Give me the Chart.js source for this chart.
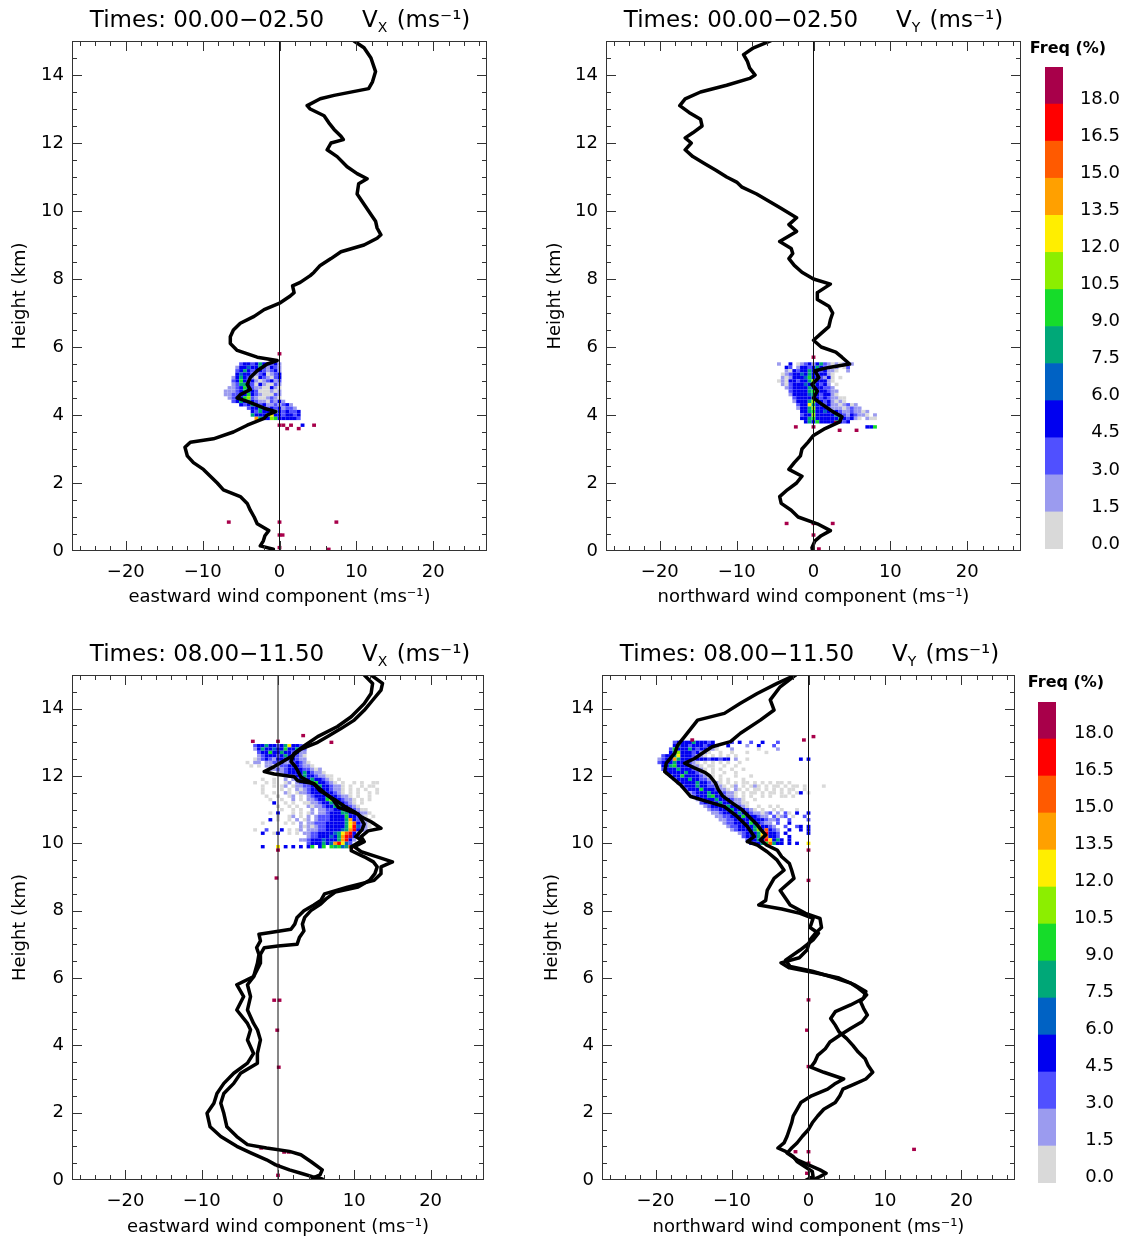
<!DOCTYPE html>
<html><head><meta charset="utf-8">
<script src="https://cdn.jsdelivr.net/npm/chart.js@4.4.1/dist/chart.umd.min.js"></script>
<style>
html,body{margin:0;padding:0;background:#fff;}
#wrap{position:relative;width:1122px;height:1240px;overflow:hidden;background:#fff;}
canvas{position:absolute;}
</style></head><body><div id="wrap">
<canvas id="p1" style="left:0px;top:0px;width:530px;height:620px" width="530" height="620"></canvas>
<canvas id="p2" style="left:530px;top:0px;width:500px;height:620px" width="500" height="620"></canvas>
<canvas id="cb1" style="left:1025px;top:30px;width:97px;height:530px" width="97" height="530"></canvas>
<canvas id="p3" style="left:0px;top:630px;width:530px;height:610px" width="530" height="610"></canvas>
<canvas id="p4" style="left:530px;top:630px;width:500px;height:610px" width="500" height="610"></canvas>
<canvas id="cb2" style="left:1020px;top:660px;width:102px;height:540px" width="102" height="540"></canvas>
</div>
<script>
// ---------- axes ----------
const X_MIN = -27, X_MAX = 27, H_MIN = 0, H_MAX = 15;
const xTickValues = [-20, -10, 0, 10, 20];
const hTickValues = [0, 2, 4, 6, 8, 10, 12, 14];
const BIN_W = 0.5, BIN_H = 0.1;   // histogram bin size (ms-1, km)

// ---------- colour scale ----------
const freqLevels = [0.0, 1.5, 3.0, 4.5, 6.0, 7.5, 9.0, 10.5, 12.0, 13.5, 15.0, 16.5, 18.0];
const FREQ_STEP = 1.5;
const freqColors = ['#d9d9d9', '#9b9bef', '#5050ff', '#0000f0', '#0062c4', '#00a878', '#16dc2a',
                    '#8cee00', '#ffee00', '#ffa000', '#ff5a00', '#ff0000', '#a8004a'];

// ---------- titles ----------
const timesTop = 'Times: 00.00\u221202.50';
const timesBottom = 'Times: 08.00\u221211.50';

// ---------- profiles [height km, wind ms-1] ----------
const p1Profile = [[15.0,9.7],[14.8,11.0],[14.5,11.9],[14.1,12.5],[13.8,12.1],[13.6,11.6],[13.4,7.1],[13.3,5.3],[13.1,3.6],[13.0,4.0],[12.8,5.8],[12.6,6.4],[12.4,7.1],[12.2,8.0],[12.1,8.3],[12.0,6.7],[11.8,6.2],[11.6,7.5],[11.3,8.8],[11.1,10.1],[10.95,11.4],[10.8,10.3],[10.5,10.1],[10.2,11.0],[9.9,11.9],[9.7,12.5],[9.5,12.7],[9.3,13.2],[9.2,12.7],[9.0,11.0],[8.8,8.0],[8.6,6.7],[8.4,5.3],[8.2,4.5],[8.1,4.0],[7.9,2.7],[7.8,1.7],[7.6,1.9],[7.5,1.4],[7.3,0.1],[7.1,-2.0],[6.9,-3.3],[6.7,-5.1],[6.5,-6.0],[6.3,-6.4],[6.1,-6.4],[5.9,-5.5],[5.7,-2.9],[5.6,-0.3],[5.5,-1.6],[5.3,-2.9],[5.1,-3.8],[4.9,-4.2],[4.75,-3.8],[4.6,-5.1],[4.5,-5.5],[4.4,-4.2],[4.2,-2.0],[4.1,-0.5],[4.0,-1.6],[3.9,-2.0],[3.7,-4.2],[3.5,-6.0],[3.3,-8.6],[3.2,-11.6],[3.05,-12.3],[2.8,-12.0],[2.6,-11.2],[2.4,-9.9],[2.2,-9.0],[2.0,-8.1],[1.8,-7.3],[1.6,-5.1],[1.4,-4.2],[1.2,-3.8],[1.0,-3.3],[0.8,-2.9],[0.6,-1.4],[0.45,-1.9],[0.3,-2.1],[0.15,-2.5],[0.05,-0.8]];

const p2Profile = [[15.0,-5.6],[14.8,-7.8],[14.6,-9.1],[14.4,-8.6],[14.2,-8.3],[14.0,-7.6],[13.9,-8.3],[13.7,-11.3],[13.5,-14.7],[13.3,-16.7],[13.1,-17.4],[12.9,-16.2],[12.7,-14.7],[12.5,-14.5],[12.3,-15.7],[12.15,-16.7],[12.0,-15.9],[11.8,-16.7],[11.6,-15.7],[11.4,-14.2],[11.2,-12.7],[11.0,-11.3],[10.85,-10.0],[10.7,-9.3],[10.5,-7.4],[10.3,-5.9],[10.1,-4.4],[9.8,-2.2],[9.6,-3.2],[9.4,-2.2],[9.1,-4.4],[8.9,-2.9],[8.75,-2.7],[8.6,-3.2],[8.4,-2.5],[8.2,-1.5],[8.0,0.0],[7.85,2.2],[7.6,0.5],[7.4,0.5],[7.2,2.0],[7.0,2.5],[6.8,2.2],[6.6,2.0],[6.4,1.0],[6.2,0.0],[6.0,1.0],[5.85,2.9],[5.7,3.7],[5.5,4.7],[5.4,2.0],[5.3,0.2],[5.1,0.7],[4.9,-0.2],[4.7,0.5],[4.5,0.0],[4.3,1.2],[4.1,2.5],[3.95,3.7],[3.8,3.4],[3.6,1.5],[3.4,0.0],[3.2,-0.7],[3.0,-1.5],[2.8,-1.7],[2.6,-2.5],[2.4,-3.2],[2.2,-1.5],[2.0,-2.2],[1.8,-3.4],[1.6,-4.4],[1.4,-4.2],[1.2,-2.9],[1.0,-2.0],[0.8,0.5],[0.6,2.2],[0.45,1.0],[0.3,0.2],[0.1,-0.2],[0.0,-0.1]];

const p3ProfileA = [[15.0,12.2],[14.75,13.7],[14.55,13.5],[14.25,12.4],[13.95,11.3],[13.66,10.0],[13.4,8.2],[13.17,6.5],[13.0,5.2],[12.8,3.0],[12.57,1.7],[12.28,-0.5],[12.13,-1.8],[12.06,-0.5],[11.98,2.1],[11.86,2.6],[11.78,4.7],[11.56,5.5],[11.3,7.4],[11.1,8.7],[10.94,10.0],[10.79,10.9],[10.64,12.2],[10.45,13.5],[10.37,11.8],[10.2,10.9],[10.05,11.3],[9.9,10.0],[9.75,10.9],[9.6,13.0],[9.45,15.0],[9.3,13.5],[9.1,13.5],[8.9,12.6],[8.7,9.1],[8.5,6.1],[8.3,5.6],[8.17,4.7],[8.0,3.4],[7.8,2.5],[7.6,2.2],[7.45,1.7],[7.35,-1.0],[7.3,-2.5],[7.1,-2.3],[6.9,-2.8],[6.7,-2.5],[6.44,-2.7],[6.04,-3.2],[5.8,-5.4],[5.45,-4.5],[5.05,-5.4],[4.65,-4.0],[4.46,-3.6],[4.16,-4.0],[3.76,-3.2],[3.47,-4.0],[3.17,-5.8],[2.87,-7.1],[2.57,-8.0],[2.28,-8.4],[1.98,-9.3],[1.58,-8.9],[1.29,-7.5],[1.0,-5.4],[0.8,-3.5],[0.6,-1.5],[0.45,-0.3],[0.3,1.5],[0.2,3.0],[0.1,4.5],[0.03,5.8]];
const p3ProfileB = [[15.0,11.3],[14.75,12.4],[14.45,12.2],[14.15,11.3],[13.76,9.6],[13.47,7.8],[13.17,5.2],[12.92,3.6],[12.67,2.1],[12.43,1.7],[12.3,2.2],[12.15,2.6],[11.97,3.0],[11.75,4.8],[11.5,6.1],[11.3,7.2],[11.07,7.9],[10.87,10.5],[10.57,11.3],[10.4,11.0],[10.2,10.2],[10.08,11.0],[9.9,9.6],[9.78,9.6],[9.6,11.3],[9.45,12.5],[9.3,13.0],[9.1,12.7],[8.9,12.0],[8.7,10.5],[8.55,7.5],[8.35,6.3],[8.2,5.6],[8.0,4.3],[7.8,3.5],[7.6,3.2],[7.4,3.4],[7.2,2.8],[7.0,2.5],[6.95,0.0],[6.9,-1.8],[6.7,-2.3],[6.44,-2.3],[6.04,-3.2],[5.8,-4.0],[5.45,-3.6],[5.05,-4.0],[4.65,-3.2],[4.46,-2.7],[4.16,-2.3],[3.76,-2.7],[3.47,-2.7],[3.17,-4.9],[2.87,-5.8],[2.57,-7.1],[2.28,-7.5],[1.98,-7.1],[1.58,-6.7],[1.29,-5.4],[1.05,-4.0],[0.95,-1.5],[0.85,1.5],[0.75,3.0],[0.55,4.3],[0.3,5.8],[0.15,5.5],[0.05,4.5]];

const p4ProfileA = [[15.0,-1.7],[14.75,-4.1],[14.45,-6.7],[14.16,-8.9],[13.86,-11.0],[13.66,-14.5],[13.4,-15.4],[13.17,-16.2],[12.92,-17.1],[12.67,-17.5],[12.38,-18.6],[12.13,-18.8],[11.98,-18.0],[11.73,-16.7],[11.39,-15.4],[11.24,-13.2],[11.09,-11.0],[10.79,-9.3],[10.5,-8.0],[10.2,-7.1],[10.05,-8.0],[9.95,-6.7],[9.75,-5.4],[9.5,-4.1],[9.2,-3.2],[8.96,-4.5],[8.6,-5.4],[8.3,-5.6],[8.17,-6.5],[8.05,-3.5],[7.92,-1.1],[7.77,0.6],[7.5,0.2],[7.33,1.3],[7.13,0.6],[6.83,-1.1],[6.53,-3.0],[6.34,-2.4],[6.2,0.5],[6.0,3.5],[5.85,5.5],[5.7,6.5],[5.5,7.6],[5.3,6.8],[5.1,7.2],[4.9,7.7],[4.7,7.0],[4.5,5.5],[4.3,4.1],[4.1,2.8],[3.9,2.2],[3.7,1.2],[3.5,0.8],[3.35,0.3],[3.2,2.0],[3.0,4.6],[2.85,3.4],[2.7,2.5],[2.5,0.4],[2.3,-1.0],[2.1,-1.5],[1.9,-2.0],[1.7,-2.2],[1.5,-2.5],[1.3,-2.8],[1.1,-3.2],[0.95,-4.0],[0.85,-3.0],[0.7,-2.0],[0.55,-1.5],[0.4,-0.5],[0.25,0.5],[0.1,0.6],[0.0,-0.3]];
const p4ProfileB = [[15.0,-1.7],[14.65,-3.7],[14.26,-5.0],[13.96,-4.5],[13.66,-6.3],[13.27,-8.9],[13.02,-10.2],[12.87,-12.6],[12.72,-13.6],[12.52,-14.9],[12.38,-16.2],[12.25,-15.0],[12.1,-13.5],[12.0,-12.9],[11.8,-12.2],[11.6,-11.8],[11.4,-11.2],[11.2,-10.0],[11.0,-8.7],[10.8,-7.8],[10.6,-6.9],[10.4,-6.2],[10.25,-5.6],[10.1,-6.3],[9.95,-5.5],[9.8,-4.1],[9.6,-3.5],[9.4,-2.5],[9.2,-2.2],[8.96,-1.9],[8.6,-3.7],[8.3,-2.8],[8.17,-2.4],[7.92,-0.4],[7.77,1.5],[7.5,1.7],[7.33,0.9],[7.13,0.2],[6.83,-0.2],[6.6,-1.2],[6.45,-3.6],[6.3,-2.5],[6.15,1.0],[6.0,4.0],[5.8,6.0],[5.6,7.5],[5.4,7.2],[5.2,5.5],[5.0,3.5],[4.8,2.9],[4.6,3.5],[4.4,4.0],[4.2,5.0],[4.0,5.8],[3.8,6.5],[3.6,7.4],[3.4,7.8],[3.2,8.4],[3.0,7.5],[2.85,6.0],[2.7,4.5],[2.5,4.1],[2.3,3.5],[2.1,2.0],[1.9,1.2],[1.7,0.5],[1.5,0.0],[1.3,-0.8],[1.1,-1.5],[0.95,-2.2],[0.8,-2.8],[0.6,-1.5],[0.45,0.0],[0.3,1.5],[0.2,2.3],[0.1,1.5],[0.0,0.5]];

// ---------- frequency histograms: [height, first wind bin, colour class per 0.5 ms-1 (0 = empty, 1..13)] ----------
const p1Heat = [
 [5.5,-5.0,[3,4,4,3,4,6,4,4,3,4,2]],
 [5.4,-5.5,[2,4,4,5,4,4,6,3,2,4,3,2]],
 [5.3,-5.5,[3,4,6,4,3,4,4,3,2,3,4,2]],
 [5.2,-5.5,[4,5,4,4,3,2,3,4,1,2,3,4]],
 [5.1,-6.0,[2,4,6,4,3,2,1,4,3,2,1,3,4]],
 [5.0,-6.0,[3,4,7,4,3,4,2,1,2,3,4,2,3]],
 [4.9,-6.0,[2,3,6,6,4,3,1,4,2,1,1,3,2]],
 [4.8,-6.5,[2,2,3,4,7,4,3,2,2,1,1,4,2,1]],
 [4.7,-7.0,[2,2,2,3,4,6,5,4,3,1,1,1,2,1,2]],
 [4.6,-7.0,[2,2,3,3,4,4,7,4,3,2,1,1,1,3,2]],
 [4.5,-6.5,[2,3,4,4,7,8,3,2,1,1,2,3,2,1]],
 [4.4,-6.0,[3,4,6,4,6,4,3,2,2,1,3,2,4,2]],
 [4.3,-5.0,[4,3,4,6,4,3,4,2,2,3,2,3,4,2]],
 [4.2,-4.0,[3,4,4,6,4,3,4,3,4,2,3,3,2]],
 [4.1,-3.5,[4,3,6,4,4,5,8,4,3,4,3,3,4]],
 [4.0,-3.5,[6,4,4,4,6,9,4,4,3,4,4,3,4]],
 [3.9,-3.0,[10,6,4,4,8,7,4,4,4,4,4,3]],
 [3.7,3.0,[4]]
];
const p1Outliers = [[0,5.8],[0,3.7],[0.5,3.7],[1.0,3.6],[1.5,3.7],[2.5,3.6],[4.5,3.7],[-6.6,0.85],[0,0.85],[7.4,0.85],[0,0.47],[0.4,0.47],[0,0.1],[6.4,0.05]];

const p2Heat = [
 [5.5,-4.5,[2,0,0,4,0,1,2,3,4,2,4,6,3,2,1,2,1,2,0,2]],
 [5.4,-4.0,[0,4,3,0,2,4,4,3,4,6,4,3,2,1,2,0,1,3]],
 [5.3,-3.5,[2,1,4,3,4,4,6,4,4,3,4,2,2,1,0,0,2]],
 [5.2,-4.0,[1,2,3,4,4,5,4,6,4,3,4,4,2,1]],
 [5.1,-4.0,[2,1,2,4,4,4,5,7,4,4,3,2,4,1,0,1]],
 [5.0,-4.5,[1,2,1,4,4,3,4,4,6,8,4,4,4,2,1]],
 [4.9,-4.0,[2,1,3,4,4,4,5,4,7,4,3,4,2,0,1]],
 [4.8,-3.5,[2,3,4,4,4,4,6,4,4,4,3,3,2]],
 [4.7,-3.0,[3,4,4,4,4,6,7,4,4,4,3,2,2]],
 [4.6,-3.0,[2,4,4,4,4,5,6,4,3,4,4,2,1]],
 [4.5,-2.5,[3,4,4,4,4,6,4,3,4,3,2,2,1,1]],
 [4.4,-2.5,[2,4,4,4,6,8,4,4,3,4,2,1,2,1]],
 [4.3,-2.0,[3,4,4,9,6,4,4,3,4,2,2,1,2,3,1,2]],
 [4.2,-2.0,[2,4,4,6,8,4,4,4,3,2,2,2,1,2,3,2,2]],
 [4.1,-1.5,[4,4,6,7,4,4,5,4,3,4,3,2,2,3,2,2,1,2]],
 [4.0,-1.5,[3,4,4,8,4,4,4,4,4,6,4,3,2,4,3,2,2,1,0,2]],
 [3.9,-1.5,[4,4,6,7,4,4,4,4,4,4,6,4,3,4,2,1,0,2,1,1]],
 [3.8,-1.0,[4,6,4,7,4,4,4,4,6,4,3,4]],
 [3.65,7.0,[4,4,7]]
];
const p2Outliers = [[0,5.7],[-2.3,3.65],[0,3.65],[2.9,3.78],[3.4,3.55],[5.6,3.55],[-3.5,0.81],[0,0.81],[2.5,0.81],[0,0.47],[0.7,0.06]];

const p3Heat = [
 [12.9,-3.0,[3,4,4,6,4,4,3,4,6,9,4,4,3,2]],
 [12.8,-3.0,[2,4,6,4,4,5,4,4,7,4,4,6,4,3]],
 [12.7,-2.5,[3,4,4,7,4,4,6,4,4,3,4,2,2]],
 [12.6,-2.5,[2,3,4,4,4,3,4,6,4,4,3,2,1]],
 [12.5,-3.0,[1,2,3,4,3,2,4,4,4,3,4,3,2,2]],
 [12.4,-4.0,[1,0,2,2,0,2,2,3,3,4,2,2,3,4,3,2,1,0]],
 [12.3,-3.5,[1,0,1,0,2,2,0,2,3,3,4,4,4,3,2,2,1]],
 [12.2,-1.0,[2,2,3,2,3,4,4,4,4,3,3,2,1,2]],
 [12.1,0.0,[2,2,3,4,4,4,4,6,4,3,2,2,1]],
 [12.0,1.0,[2,3,4,4,4,6,4,4,3,2,2,1,1]],
 [11.9,-2.0,[1,0,0,1,0,0,2,0,2,3,4,4,4,6,4,4,3,2,1,0,1]],
 [11.8,-3.0,[1,0,0,1,0,1,0,0,1,2,0,2,3,4,4,6,7,4,4,3,2,1,0,1,0,0,1,0,1,0,0,1,1]],
 [11.7,-3.0,[0,0,1,0,0,1,0,1,2,0,1,2,2,3,3,4,4,6,4,4,3,2,2,1,0,1,0,0,1,0,1,1,0]],
 [11.6,-2.0,[1,0,0,0,0,1,0,1,0,2,1,2,3,4,4,7,4,4,3,2,2,1,0,1,0,1,0,1,0,0,1]],
 [11.5,-2.5,[0,1,0,0,1,0,0,2,1,0,1,2,2,3,4,4,4,6,4,4,3,2,1,0,1,0,1,0,0,1,0,1]],
 [11.4,-2.0,[0,1,0,0,1,0,0,1,2,0,1,0,2,3,4,4,4,6,4,4,3,2,2,1,0,1,0,0,1,0]],
 [11.3,-1.0,[1,0,0,1,0,0,2,0,1,0,2,2,3,4,4,7,8,4,4,3,2,2,1,0,1,0,1]],
 [11.2,-1.0,[0,4,0,0,1,0,1,0,0,1,1,2,2,3,4,4,6,4,4,4,3,2,1,0,1,0,0]],
 [11.1,0.0,[1,0,0,1,0,1,0,0,2,1,2,2,3,4,4,6,7,4,4,3,2,1,0]],
 [11.0,0.5,[1,0,0,1,0,1,0,0,2,0,2,2,3,3,4,4,6,4,4,3,2,1,1]],
 [10.9,-1.0,[1,0,4,0,0,0,1,0,1,0,1,2,0,2,2,3,4,4,4,6,6,4,4,3,2,2,1]],
 [10.8,0.0,[1,0,0,1,2,0,1,0,2,0,2,3,3,3,4,4,4,4,7,4,4,3,2,1,0,1]],
 [10.7,-1.0,[4,0,1,0,0,1,0,2,0,1,2,0,2,3,3,3,4,4,4,4,6,10,4,3,2,2,1]],
 [10.6,-2.0,[1,0,0,0,0,0,1,0,1,0,2,0,2,2,3,3,3,4,4,4,4,4,6,9,11,4,3,2,1,1]],
 [10.5,3.0,[2,1,2,1,2,3,3,4,4,4,4,4,6,9,12,5,3,2,1]],
 [10.4,-3.0,[1,0,0,3,0,0,0,4,0,1,0,1,2,0,2,2,2,3,3,4,4,4,4,5,6,10,12,4,3,2]],
 [10.3,-2.0,[4,0,0,1,4,0,0,1,0,1,0,2,2,3,3,4,4,4,4,5,6,9,11,12,4,2]],
 [10.2,4.0,[2,3,3,4,4,4,5,4,6,10,12,13,4,3]],
 [10.1,3.0,[2,2,3,4,4,4,5,4,4,4,6,10,12,4,2]],
 [10.0,4.0,[3,4,4,4,6,4,5,10,12,9,5,3]],
 [9.9,-2.0,[4,0,0,0,9,0,4,0,4,0,4,0,4,7,0,4,7,0,7,6,7,5,6,11,12]]
];
const p3Outliers = [[-3.3,13.03],[0,13.03],[3.3,13.2],[7.0,13.0],[0,9.8],[-0.2,8.97],[-0.5,5.34],[0.2,5.34],[-0.1,4.45],[0.1,3.35],[-2.2,0.95],[0.8,0.83],[1.4,0.83],[0,0.43],[0,0.14]];

const p4Heat = [
 [13.0,-17.5,[3,4,4,4,4,6,4,4,4,3,4,0,0,0,0,3,0,4,0,0,3,0,0,4,0,0,0,3]],
 [12.9,-17.5,[4,6,4,4,3,4,4,4,3,4,4,3,0,0,4,0,0,0,0,2,0,0,4,0,0,0,3]],
 [12.8,-18.0,[3,7,4,4,4,6,4,3,4,4,2,2,1,0,0,0,2,0,0,0,0,0,0,1,0,0,0,0,2]],
 [12.7,-18.0,[4,6,8,4,4,4,3,4,2,2,1,0,0,1,0,0,1,0,0,0,1,0,0,0,0,1]],
 [12.6,-19.0,[3,4,4,6,9,4,4,4,3,2,2,1,0,1,0,1,0,1,0,1]],
 [12.5,-19.5,[2,3,4,4,10,6,4,4,4,3,4,4,4,3,4,4,3,4,4,0,2,0,0,1,0,0,0,0,0,0,0,0,0,0,0,0,0,4,0,4]],
 [12.4,-19.5,[3,4,4,4,6,4,4,4,3,2,1,0,1,0,1,0,1,0,1,0,0,1]],
 [12.3,-19.0,[4,4,6,7,4,4,4,3,2,2,1,0,1,1,0,0,1,0,0,1,0]],
 [12.2,-19.0,[3,4,4,4,6,4,4,4,3,2,2,1,0,1,0,1,0,0,1,0,0,1]],
 [12.1,-18.5,[4,4,4,4,4,6,4,4,3,2,1,0,1,0,0,1,0,0,1,0]],
 [12.0,-18.0,[3,4,4,7,4,4,4,4,3,2,1,1,0,1,0,0,0,1,0,0,0,1]],
 [11.9,-17.5,[3,4,4,4,6,4,4,3,3,2,1,0,1,0,1,0,0,0,1]],
 [11.8,-17.0,[3,4,4,4,4,6,4,4,3,2,2,1,0,1,0,1,0,1,1,0,1,0,1,0,1,0,1,1,0,1]],
 [11.7,-16.5,[3,4,4,4,6,4,4,3,3,2,2,1,0,1,2,0,1,0,1,2,1,0,1,0,1,1,0,1,0,1,1,0,1,0,0,0,0,1,0]],
 [11.6,-16.0,[3,4,4,4,7,4,4,4,3,2,2,1,0,2,1,0,1,0,1,1,0,1,0,1,0,1,0,1,1,0,0,1]],
 [11.5,-15.5,[2,3,4,4,4,6,4,4,3,3,2,2,1,0,1,0,1,1,0,1,0,1,1,0,1,0,1,0,1,4,0,1,0]],
 [11.4,-15.0,[3,4,4,4,6,7,4,4,3,2,2,1,0,1,0,1,0,0,1,0,1,0,0,1,1,0,1]],
 [11.3,-14.5,[2,3,4,4,4,6,4,4,4,3,2,2,1,0,0,1,0]],
 [11.2,-14.0,[3,4,4,4,4,6,4,4,3,2,2,1,1]],
 [11.1,-13.5,[2,3,4,4,4,4,6,4,4,3,2,1,0,0,1,0,0,1,0,1]],
 [11.0,-13.0,[2,3,3,4,4,4,6,4,4,4,3,2,1,0,1,0,0,1,0,1,0,0,0,1,0]],
 [10.9,-12.5,[2,2,3,4,4,4,4,6,4,4,3,2,2,1,2,3,0,2,0,3,1,0,4,0,0,4]],
 [10.8,-12.0,[2,2,3,3,4,4,4,7,4,4,4,3,2,2,0,3,1,2,3,0,1,0,0,3]],
 [10.7,-11.5,[2,2,3,3,4,4,4,4,6,4,4,4,3,2,2,3,0,0,3,0,0,0,0,3]],
 [10.6,-11.0,[2,3,3,4,4,4,4,7,4,4,3,2,2,0,3,0,0,4]],
 [10.5,-10.5,[2,3,3,4,4,4,4,6,10,4,4,3,2,0,0,3,0,0,3,4,0,4]],
 [10.4,-10.0,[2,3,4,4,4,4,6,8,4,11,4,3,2,0,0,4,0,0,4,0,4]],
 [10.3,-9.0,[2,3,4,4,4,6,9,12,4,4,3,0,4,0,0,0,0,0,4]],
 [10.2,-8.5,[3,4,4,4,6,10,11,4,4,3,0,0,4]],
 [10.1,-8.0,[3,4,4,6,4,12,9,4,6,4,0,4]],
 [10.0,-7.5,[4,4,4,6,7,11,6,4,4,0,4,0,4,0,0,9]]
];
const p4Outliers = [[-0.6,13.07],[0.65,13.17],[-15.2,13.07],[0,9.8],[0,8.9],[0,5.35],[-0.2,4.45],[0,3.37],[-1.7,0.84],[0,0.84],[0,0.5],[-0.2,0.2],[13.8,0.91]];

// ---------- rendering ----------
Chart.defaults.font.family = '"DejaVu Sans", sans-serif';
Chart.defaults.color = '#000';
const minusFmt = v => (v < 0 ? '\u2212' + Math.abs(v) : String(v));

const heatPlugin = {
  id: 'heat',
  beforeDatasetsDraw(chart, args, opts) {
    const {ctx, chartArea: ca, scales: {x, y}} = chart;
    ctx.save();
    ctx.beginPath(); ctx.rect(ca.left, ca.top, ca.right - ca.left, ca.bottom - ca.top); ctx.clip();
    const cell = (xv, hv, lv) => {
      const x1 = x.getPixelForValue(xv - BIN_W / 2), x2 = x.getPixelForValue(xv + BIN_W / 2);
      const y1 = y.getPixelForValue(hv + BIN_H / 2), y2 = y.getPixelForValue(hv - BIN_H / 2);
      ctx.fillStyle = freqColors[lv - 1];
      ctx.fillRect(x1, y1, x2 - x1, y2 - y1);
    };
    for (const [h, x0, levels] of opts.rows) levels.forEach((lv, i) => { if (lv) cell(x0 + i * BIN_W, h, lv); });
    for (const [xv, hv] of opts.outliers) cell(xv, hv, freqColors.length);
    ctx.restore();
  }
};

const framePlugin = {
  id: 'frame',
  afterDraw(chart, args, opts) {
    const {ctx, chartArea: {left, right, top, bottom}, scales: {x, y}} = chart;
    ctx.save();
    ctx.strokeStyle = '#333'; ctx.lineWidth = 1;
    ctx.strokeRect(Math.round(left) + 0.5, Math.round(top) + 0.5, Math.round(right - left) - 1, Math.round(bottom - top) - 1);
    ctx.beginPath();
    for (let v = -26; v <= 26; v += 2) {
      const p = Math.round(x.getPixelForValue(v)) + 0.5;
      const len = v % 10 === 0 ? 10 : 5;
      ctx.moveTo(p, bottom); ctx.lineTo(p, bottom - len);
      ctx.moveTo(p, top); ctx.lineTo(p, top + len);
    }
    for (let v = 0.5; v < 15; v += 0.5) {
      const p = Math.round(y.getPixelForValue(v)) + 0.5;
      const len = v % 2 === 0 ? 10 : 5;
      ctx.moveTo(left, p); ctx.lineTo(left + len, p);
      ctx.moveTo(right, p); ctx.lineTo(right - len, p);
    }
    ctx.stroke();
    // panel title
    const ty = top - 20;
    ctx.fillStyle = '#000'; ctx.textBaseline = 'middle';
    ctx.font = '23px "DejaVu Sans"'; ctx.textAlign = 'center';
    ctx.fillText(opts.times, left + 135, ty);
    ctx.textAlign = 'left';
    let tx = left + 290;
    ctx.fillText('V', tx, ty); tx += ctx.measureText('V').width;
    ctx.font = '14px "DejaVu Sans"';
    ctx.fillText(opts.comp, tx, ty + 7); tx += ctx.measureText(opts.comp).width + 2;
    ctx.font = '23px "DejaVu Sans"';
    ctx.fillText(' (ms\u207B\u00B9)', tx, ty);
    ctx.restore();
  }
};

function makePanel(id, cfg) {
  const curveSets = cfg.profiles.map(p => ({
    data: p.map(([h, v]) => ({x: v, y: h})), showLine: true, borderColor: '#000', borderWidth: 3.5,
    pointRadius: 0, fill: false, tension: 0, borderJoinStyle: 'round', borderCapStyle: 'round'
  }));
  const zeroLine = {data: [{x: 0, y: H_MIN}, {x: 0, y: H_MAX}], showLine: true, borderColor: '#111',
    borderWidth: 1, pointRadius: 0, fill: false};
  return new Chart(document.getElementById(id), {
    type: 'scatter',
    data: {datasets: [zeroLine, ...curveSets]},
    options: {
      responsive: false, animation: false, events: [],
      layout: {padding: {top: cfg.padTop, right: cfg.padRight, left: 0, bottom: 0}},
      plugins: {legend: {display: false}, tooltip: {enabled: false},
        heat: {rows: cfg.heat, outliers: cfg.outliers},
        frame: {times: cfg.times, comp: cfg.comp}},
      scales: {
        x: {type: 'linear', min: X_MIN, max: X_MAX, position: 'bottom',
          afterBuildTicks: s => { s.ticks = xTickValues.map(v => ({value: v})); },
          afterFit: s => { s.height = cfg.xAxisH; },
          ticks: {callback: minusFmt, font: {size: 18}, color: '#000', padding: 11, autoSkip: false, maxRotation: 0},
          grid: {display: false, drawTicks: false}, border: {display: false},
          title: {display: true, text: cfg.xTitle, font: {size: 18}, color: '#000', padding: {top: 0, bottom: cfg.xTitlePad}}},
        y: {type: 'linear', min: H_MIN, max: H_MAX, position: 'left',
          afterBuildTicks: s => { s.ticks = hTickValues.map(v => ({value: v})); },
          afterFit: s => { s.width = cfg.yAxisW; },
          ticks: {callback: v => String(v), font: {size: 18}, color: '#000', padding: 8},
          grid: {display: false, drawTicks: false}, border: {display: false},
          title: {display: true, text: 'Height (km)', font: {size: 18}, color: '#000', padding: {top: cfg.yTitlePad, bottom: 0}}}
      }
    },
    plugins: [heatPlugin, framePlugin]
  });
}

makePanel('p1', {profiles: [p1Profile], heat: p1Heat, outliers: p1Outliers, times: timesTop, comp: 'X',
  xTitle: 'eastward wind component (ms\u207B\u00B9)', padTop: 41, padRight: 43, xAxisH: 69, yAxisW: 72, xTitlePad: 12, yTitlePad: 10});
makePanel('p2', {profiles: [p2Profile], heat: p2Heat, outliers: p2Outliers, times: timesTop, comp: 'Y',
  xTitle: 'northward wind component (ms\u207B\u00B9)', padTop: 41, padRight: 9, xAxisH: 69, yAxisW: 76, xTitlePad: 12, yTitlePad: 15});
makePanel('p3', {profiles: [p3ProfileA, p3ProfileB], heat: p3Heat, outliers: p3Outliers, times: timesBottom, comp: 'X',
  xTitle: 'eastward wind component (ms\u207B\u00B9)', padTop: 45, padRight: 46, xAxisH: 60, yAxisW: 72, xTitlePad: 2, yTitlePad: 10});
makePanel('p4', {profiles: [p4ProfileA, p4ProfileB], heat: p4Heat, outliers: p4Outliers, times: timesBottom, comp: 'Y',
  xTitle: 'northward wind component (ms\u207B\u00B9)', padTop: 45, padRight: 15, xAxisH: 60, yAxisW: 72, xTitlePad: 2, yTitlePad: 12});

const freqTitlePlugin = {
  id: 'freqTitle',
  afterDraw(chart, args, opts) {
    const {ctx} = chart;
    ctx.save();
    ctx.fillStyle = '#000'; ctx.font = 'bold 16px "DejaVu Sans"';
    ctx.textAlign = 'center'; ctx.textBaseline = 'middle';
    ctx.fillText('Freq (%)', opts.x, opts.y);
    ctx.restore();
  }
};

function makeColorbar(id, cfg) {
  return new Chart(document.getElementById(id), {
    type: 'bar',
    data: {labels: [''], datasets: freqColors.map(c => ({data: [FREQ_STEP], backgroundColor: c, borderWidth: 0,
      barPercentage: 1, categoryPercentage: 1, stack: 'f'}))},
    options: {
      responsive: false, animation: false, events: [],
      layout: {padding: {left: cfg.left, top: cfg.top, bottom: cfg.bottom, right: cfg.right}},
      plugins: {legend: {display: false}, tooltip: {enabled: false}, freqTitle: {x: cfg.titleX, y: cfg.titleY}},
      scales: {
        x: {display: false, stacked: true},
        y: {stacked: true, position: 'right', min: 0, max: freqLevels[freqLevels.length - 1] + FREQ_STEP,
          afterBuildTicks: s => { s.ticks = freqLevels.map(v => ({value: v})); },
          afterFit: s => { s.width = cfg.axisW; s.paddingTop = 0; s.paddingBottom = 0; },
          ticks: {callback: v => v.toFixed(1), font: {size: 18}, color: '#000', padding: cfg.pad,
            labelOffset: cfg.labelOffset, crossAlign: 'far'},
          grid: {display: false, drawTicks: false}, border: {display: false}}
      }
    },
    plugins: [freqTitlePlugin]
  });
}
makeColorbar('cb1', {left: 20, top: 37, bottom: 11, right: 2, axisW: 57, pad: 17, labelOffset: -5, titleX: 43, titleY: 19});
makeColorbar('cb2', {left: 18, top: 42, bottom: 17, right: 8, axisW: 58, pad: 18, labelOffset: -6, titleX: 46, titleY: 23});
</script>
</body></html>
